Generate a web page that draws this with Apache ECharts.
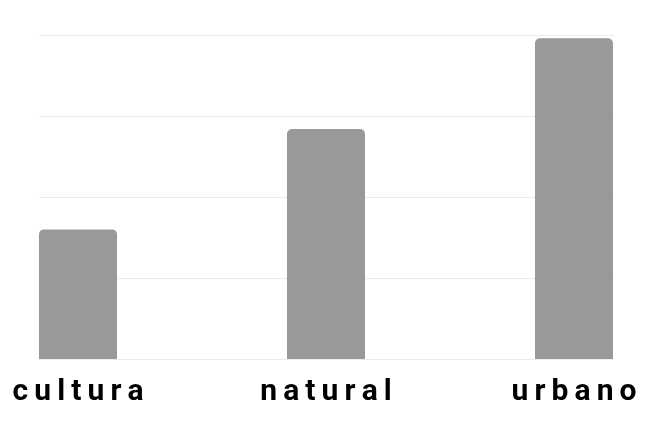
<!DOCTYPE html>
<html>
<head>
<meta charset="utf-8">
<script src="https://cdn.jsdelivr.net/npm/echarts@6/dist/echarts.min.js"></script>
<style>
html,body{margin:0;padding:0;background:#fff;}
#chart{width:660px;height:431px;}
</style>
</head>
<body>
<div id="chart"></div>
<script>
const categories = ['cultura', 'natural', 'urbano'];
const values = [160, 284, 396];
const yMin = 0, yMax = 400, yInterval = 100;

const chart = echarts.init(document.getElementById('chart'), null, {renderer: 'canvas'});
chart.setOption({
  animation: false,
  backgroundColor: '#ffffff',
  grid: [
    {left: 39, right: 46, top: 35, bottom: 72},
    {left: 78, right: 86, top: 35, bottom: 72}
  ],
  xAxis: [
    {gridIndex: 0, type: 'category', data: categories, show: false},
    {
      gridIndex: 1, type: 'category', data: categories, boundaryGap: false,
      axisLine: {show: false}, axisTick: {show: false},
      axisLabel: {
        interval: 0, margin: 18,
        fontFamily: 'Roboto, sans-serif',
        fontWeight: 'bold', fontSize: 30, color: '#000',
        formatter: v => v.split('').join('\u200A\u200A')
      }
    }
  ],
  yAxis: [
    {
      gridIndex: 0, type: 'value', min: yMin, max: yMax, interval: yInterval,
      axisLine: {show: false}, axisTick: {show: false}, axisLabel: {show: false},
      splitLine: {show: true, lineStyle: {color: '#ececec', width: 1}}
    },
    {
      gridIndex: 1, type: 'value', min: yMin, max: yMax, interval: yInterval,
      show: false, splitLine: {show: false}
    }
  ],
  series: [{
    type: 'bar', xAxisIndex: 1, yAxisIndex: 1,
    data: values, barWidth: 78,
    itemStyle: {color: '#999999', borderRadius: [5, 5, 0, 0]}
  }]
});
</script>
</body>
</html>
